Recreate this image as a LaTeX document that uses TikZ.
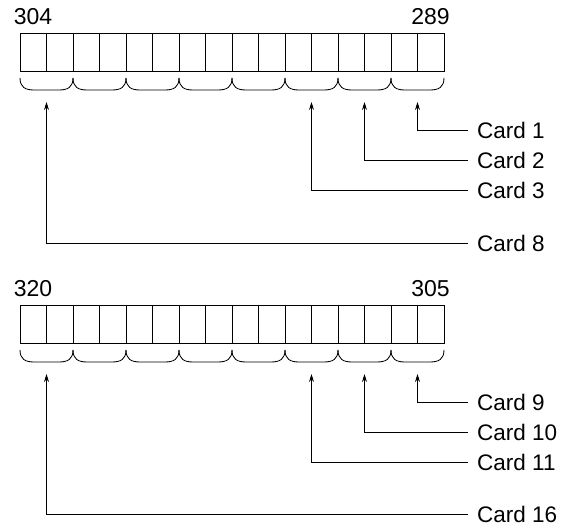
\documentclass[tikz,border=0pt]{standalone}
\usepackage{fontspec}
\setmainfont{Liberation Sans}
\usetikzlibrary{arrows.meta}
\begin{document}
\begin{tikzpicture}[x=1pt,y=-1pt,
  cell/.style={draw, line width=0.9pt, minimum width=26.5pt, minimum height=38pt, inner sep=0pt, outer sep=0pt},
  lbl/.style={font=\fontsize{23}{27}\selectfont, inner sep=0pt},
  cardlbl/.style={font=\fontsize{22.5}{27}\selectfont, anchor=west, inner xsep=9pt, inner ysep=0pt},
  brc/.style={line width=0.85pt},
  conn/.style={line width=0.85pt, -{Stealth[length=8pt,width=5pt]}}]
\useasboundingbox (0,0) rectangle (563,526);
\foreach \reg/\dy/\lft/\rgt in {A/0/304/289, B/272/320/305}{
  \foreach \i in {0,...,15}{
    \node[cell] (\reg\i) at (33.25+26.5*\i, 52+\dy) {};
  }
  \node[lbl, anchor=base] (\reg L) at (33, 25+\dy) {\lft};
  \node[lbl, anchor=base] (\reg R) at (430.5, 25+\dy) {\rgt};
  \foreach \j in {0,...,7}{
    \pgfmathsetmacro{\xa}{20+53*\j}
    \pgfmathsetmacro{\xb}{\xa+53}
    \draw[brc] (\xa,78+\dy) .. controls (\xa,87+\dy) and (\xa+5,90+\dy) .. (\xa+14,90+\dy)
      -- (\xb-14,90+\dy) .. controls (\xb-5,90+\dy) and (\xb,87+\dy) .. (\xb,78+\dy);
    \coordinate (\reg t\j) at (\xa+26.5, 102+\dy);
  }
}
% top register cards
\node[cardlbl] (c1) at (468,130.5) {Card 1};
\node[cardlbl] (c2) at (468,160.5) {Card 2};
\node[cardlbl] (c3) at (468,190) {Card 3};
\node[cardlbl] (c8) at (468,243) {Card 8};
\draw[conn] (c1.west) -| (At7);
\draw[conn] (c2.west) -| (At6);
\draw[conn] (c3.west) -| (At5);
\draw[conn] (c8.west) -| (At0);
% bottom register cards
\node[cardlbl] (c9) at (468,402.5) {Card 9};
\node[cardlbl] (c10) at (468,432.5) {Card 10};
\node[cardlbl] (c11) at (468,462) {Card 11};
\node[cardlbl] (c16) at (468,514) {Card 16};
\draw[conn] (c9.west) -| (Bt7);
\draw[conn] (c10.west) -| (Bt6);
\draw[conn] (c11.west) -| (Bt5);
\draw[conn] (c16.west) -| (Bt0);
\end{tikzpicture}
\end{document}
